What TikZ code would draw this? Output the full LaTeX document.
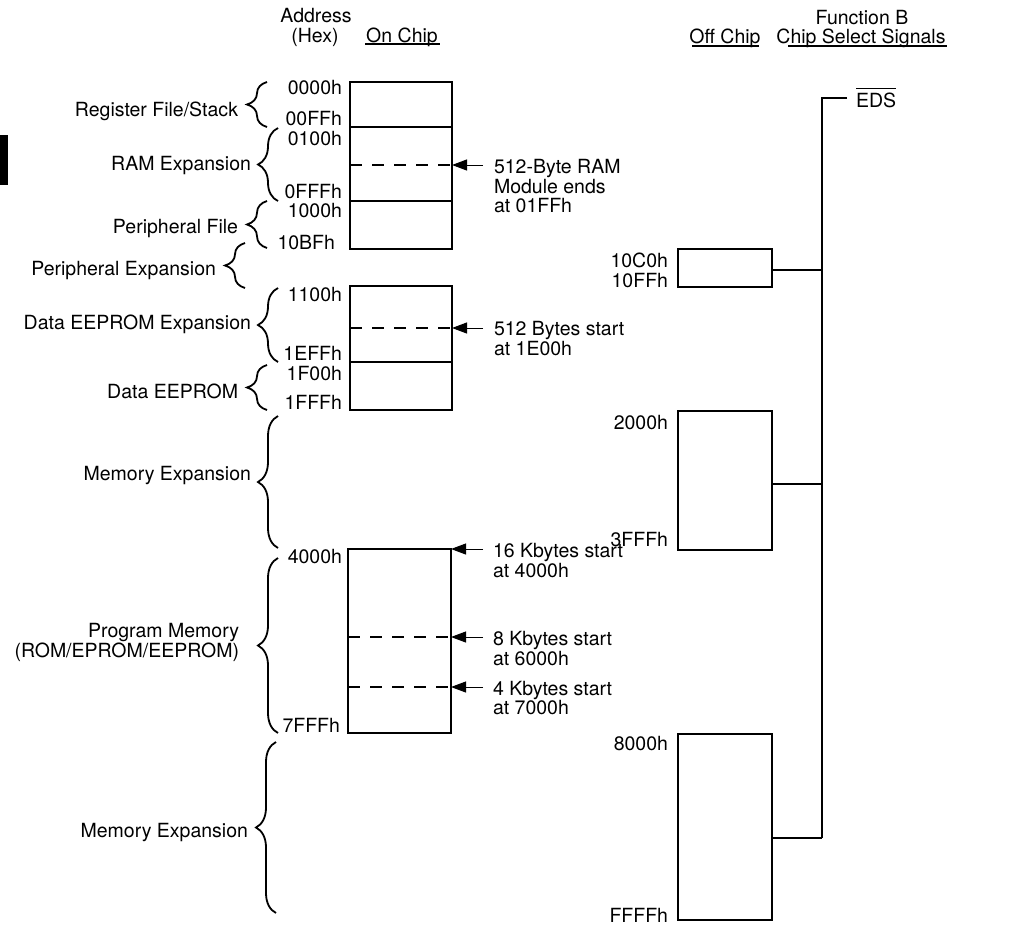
\documentclass[tikz,border=0pt]{standalone}
\usepackage{fontspec}
\setmainfont{TeX Gyre Heros}
\usetikzlibrary{arrows.meta,decorations.pathreplacing}
\begin{document}
\begin{tikzpicture}[x=1pt,y=-1pt,
  lbl/.style={inner sep=0pt, outer sep=0pt, font=\fontsize{19.5}{20}\selectfont},
  lr/.style={lbl, anchor=base east},
  ll/.style={lbl, anchor=base west},
  lc/.style={lbl, anchor=base},
  blk/.style={draw, line width=2pt, inner sep=0pt, outer sep=0pt, anchor=north west},
  inner/.style={line width=1.8pt},
  dsh/.style={line width=2.4pt, dash pattern=on 12pt off 10pt},
  arr/.style={line width=1pt, -{Triangle[length=15pt,width=11pt]}},
  bus/.style={line width=1.2pt},
  ul/.style={line width=1.1pt},
  brc/.style={line width=1.8pt, decorate, decoration={brace, amplitude=20pt}}
]
\useasboundingbox (0,0) rectangle (1011,926);
% tab mark
\fill (0,135) rectangle (8,185);

% headers
\node[lc] (hAddr) at (316,22) {Address};
\node[lc] (hHex) at (315,42) {(Hex)};
\node[lc] (hOn) at (402,42) {On Chip};
\draw[ul] (365,44) -- (440,44);
\node[lc] (hOff) at (725,43) {Off Chip};
\draw[ul] (692,46) -- (759,46);
\node[lc] (hFun) at (862,24) {Function B};
\node[lc] (hCS) at (861,43) {Chip Select Signals};
\draw[ul] (788,46) -- (947,46);

% on-chip boxes
\node[blk, minimum width=102pt, minimum height=167pt] (onA) at (350,82) {};
\node[blk, minimum width=102pt, minimum height=124pt] (onB) at (350,286) {};
\node[blk, minimum width=103pt, minimum height=184pt] (onC) at (348,549) {};

\coordinate (s1) at (400,127);
\coordinate (s2) at (400,201);
\coordinate (s3) at (400,362);
\draw[inner] (s1 -| onA.west) -- (s1 -| onA.east);
\draw[inner] (s2 -| onA.west) -- (s2 -| onA.east);
\draw[inner] (s3 -| onB.west) -- (s3 -| onB.east);

% dashed lines and arrows
\coordinate (a1) at (483,165);
\coordinate (a2) at (483,328);
\coordinate (a3) at (483,549);
\coordinate (a4) at (483,637);
\coordinate (a5) at (483,687);
\draw[dsh] (a1 -| onA.west) -- (a1 -| onA.east);
\draw[dsh] (a2 -| onB.west) -- (a2 -| onB.east);
\draw[dsh] (a4 -| onC.west) -- (a4 -| onC.east);
\draw[dsh] (a5 -| onC.west) -- (a5 -| onC.east);
\draw[arr] (a1) -- (a1 -| onA.east);
\draw[arr] (a2) -- (a2 -| onB.east);
\draw[arr] (a3) -- (a3 -| onC.east);
\draw[arr] (a4) -- (a4 -| onC.east);
\draw[arr] (a5) -- (a5 -| onC.east);

% arrow texts
\node[ll] (t1a) at (494,173) {512-Byte RAM};
\node[ll] (t1b) at (494,193) {Module ends};
\node[ll] (t1c) at (494,212) {at 01FFh};
\node[ll] (t2a) at (494,335) {512 Bytes start};
\node[ll] (t2b) at (494,355) {at 1E00h};
\node[ll] (t3a) at (493,557) {16 Kbytes start};
\node[ll] (t3b) at (493,577) {at 4000h};
\node[ll] (t4a) at (493,645) {8 Kbytes start};
\node[ll] (t4b) at (493,665) {at 6000h};
\node[ll] (t5a) at (493,695) {4 Kbytes start};
\node[ll] (t5b) at (493,714) {at 7000h};

% addresses
\node[lr] (ad1) at (342,94) {0000h};
\node[lr] (ad2) at (342,125) {00FFh};
\node[lr] (ad3) at (342,145) {0100h};
\node[lr] (ad4) at (342,198) {0FFFh};
\node[lr] (ad5) at (342,217) {1000h};
\node[lr] (ad6) at (335,249) {10BFh};
\node[lr] (ad7) at (342,301) {1100h};
\node[lr] (ad8) at (342,360) {1EFFh};
\node[lr] (ad9) at (342,380) {1F00h};
\node[lr] (ad10) at (342,409) {1FFFh};
\node[lr] (ad11) at (342,563) {4000h};
\node[lr] (ad12) at (340,732) {7FFFh};

% braces
\draw[brc] (267,127) -- (267,82);
\draw[brc] (278,201) -- (278,128);
\draw[brc] (267,248) -- (267,201);
\draw[brc] (245,288) -- (245,243);
\draw[brc] (278,362) -- (278,288);
\draw[brc] (267,410) -- (267,365);
\draw[brc] (278,548) -- (278,416);
\draw[brc] (278,733) -- (278,558);
\draw[brc] (276,913) -- (276,742);

% brace labels
\node[lr] (b1) at (238,116) {Register File/Stack};
\node[lr] (b2) at (251,170) {RAM Expansion};
\node[lr] (b3) at (238,233) {Peripheral File};
\node[lr] (b4) at (216,275) {Peripheral Expansion};
\node[lr] (b5) at (251,329) {Data EEPROM Expansion};
\node[lr] (b6) at (238,398) {Data EEPROM};
\node[lr] (b7) at (251,480) {Memory Expansion};
\node[lr] (b8a) at (239,637) {Program Memory};
\node[lr] (b8b) at (239,657) {(ROM/EPROM/EEPROM)};
\node[lr] (b9) at (248,837) {Memory Expansion};

% off-chip boxes
\node[blk, minimum width=94pt, minimum height=38pt] (offA) at (678,249) {};
\node[blk, minimum width=94pt, minimum height=139pt] (offB) at (678,411) {};
\node[blk, minimum width=94pt, minimum height=186pt] (offC) at (678,734) {};
\node[lr] (o1) at (668,267) {10C0h};
\node[lr] (o2) at (668,287) {10FFh};
\node[lr] (o3) at (668,429) {2000h};
\node[lr] (o4) at (668,546) {3FFFh};
\node[lr] (o5) at (668,750) {8000h};
\node[lr] (o6) at (668,922) {FFFFh};

% chip select bus
\node[ll] (eds) at (856,107) {EDS};
\draw[ul] ([yshift=4pt]eds.north west) -- ([yshift=4pt]eds.north east);
\coordinate (busTop) at (822,98);
\coordinate (stub) at (847,98);
\coordinate (jA) at (822,270);
\coordinate (jB) at (822,484);
\coordinate (jC) at (822,838);
\draw[bus] (stub) -- (busTop) -- (jC);
\draw[bus] (jA -| offA.east) -- (jA);
\draw[bus] (jB -| offB.east) -- (jB);
\draw[bus] (jC -| offC.east) -- (jC);
\end{tikzpicture}
\end{document}
